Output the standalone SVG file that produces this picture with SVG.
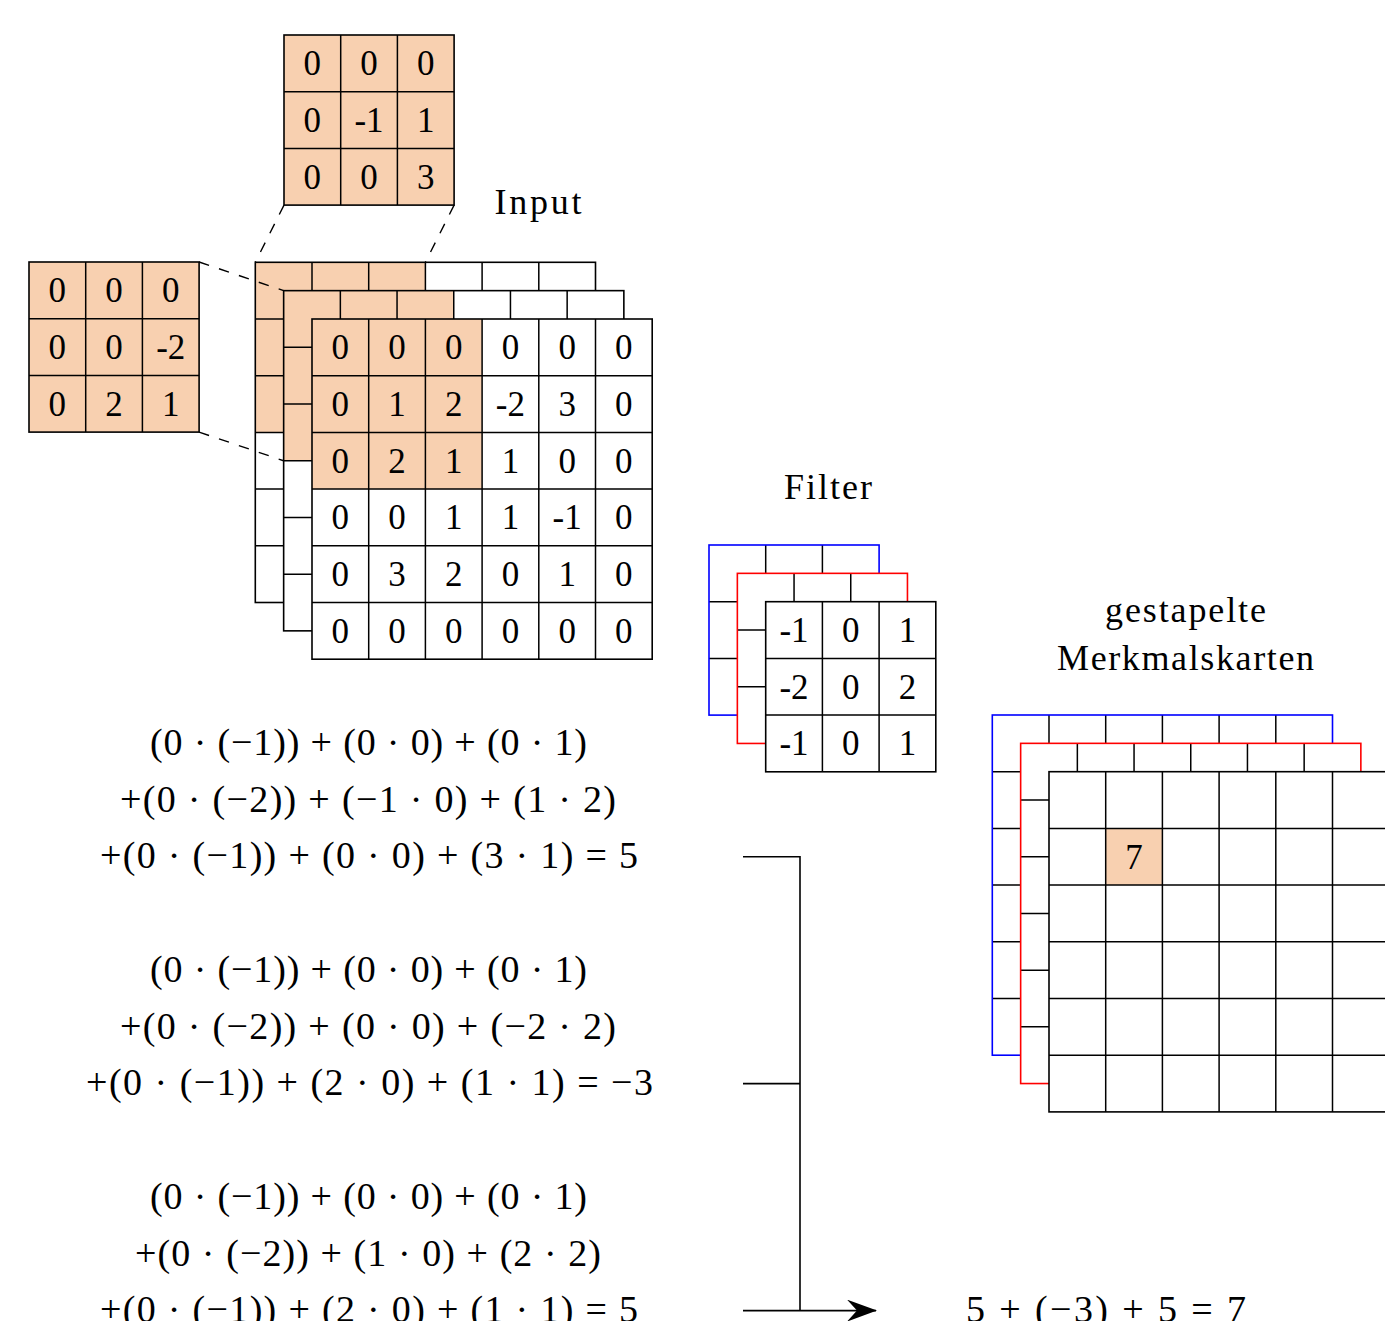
<svg xmlns="http://www.w3.org/2000/svg" xmlns:xlink="http://www.w3.org/1999/xlink" width="1385" height="1321" viewBox="0 0 1385 1321">
<style>
.bg{fill:#ffffff;stroke:none}
.hl{fill:#F8D0B0;stroke:none}
.gl{fill:none;stroke:#000;stroke-width:1.5}
.bd{fill:none;stroke:#000;stroke-width:1.6}
.bdb{fill:none;stroke:#0000FF;stroke-width:1.6}
.bdr{fill:none;stroke:#FF0000;stroke-width:1.6}
.n{font-family:"Liberation Serif","Times New Roman",serif;font-size:35px;text-anchor:middle;fill:#000}
.t{font-family:"Liberation Serif","Times New Roman",serif;font-size:36px;text-anchor:middle;fill:#000}
.e{font-family:"Liberation Serif","Times New Roman",serif;font-size:38px;text-anchor:middle;fill:#000}
.dash{fill:none;stroke:#000;stroke-width:1.4;stroke-dasharray:10.5 10.5}
.con{fill:none;stroke:#000;stroke-width:1.6}
</style>
<defs>
<path id="g6" class="gl" d="M56.7 0V340.2M113.4 0V340.2M170.1 0V340.2M226.8 0V340.2M283.5 0V340.2M0 56.7H340.2M0 113.4H340.2M0 170.1H340.2M0 226.8H340.2M0 283.5H340.2"/>
<path id="g3" class="gl" d="M56.7 0V170.1M113.4 0V170.1M0 56.7H170.1M0 113.4H170.1"/>
<marker id="stealth" viewBox="0 0 30 22" refX="29" refY="11" markerWidth="30" markerHeight="22" markerUnits="userSpaceOnUse" orient="auto">
<path d="M0,0 L30,11 L0,22 L10,11 Z" fill="#000"/>
</marker>
</defs>
<rect width="1385" height="1321" fill="#fff"/>

<!-- Input stack -->
<g id="input-layer-1" transform="translate(255.3,262.3)">
<rect class="bg" width="340.2" height="340.2"/>
<rect class="hl" width="170.1" height="170.1"/>
<use href="#g6"/>
<rect class="bd" width="340.2" height="340.2"/>
</g>
<g id="input-layer-2" transform="translate(283.65,290.65)">
<rect class="bg" width="340.2" height="340.2"/>
<rect class="hl" width="170.1" height="170.1"/>
<use href="#g6"/>
<rect class="bd" width="340.2" height="340.2"/>
</g>
<g id="input-layer-3" transform="translate(312,319)">
<rect class="bg" width="340.2" height="340.2"/>
<rect class="hl" width="170.1" height="170.1"/>
<use href="#g6"/>
<rect class="bd" width="340.2" height="340.2"/>
<g class="n">
<text x="28.35" y="40.35">0</text><text x="85.05" y="40.35">0</text><text x="141.75" y="40.35">0</text><text x="198.45" y="40.35">0</text><text x="255.15" y="40.35">0</text><text x="311.85" y="40.35">0</text>
<text x="28.35" y="97.05">0</text><text x="85.05" y="97.05">1</text><text x="141.75" y="97.05">2</text><text x="198.45" y="97.05">-2</text><text x="255.15" y="97.05">3</text><text x="311.85" y="97.05">0</text>
<text x="28.35" y="153.75">0</text><text x="85.05" y="153.75">2</text><text x="141.75" y="153.75">1</text><text x="198.45" y="153.75">1</text><text x="255.15" y="153.75">0</text><text x="311.85" y="153.75">0</text>
<text x="28.35" y="210.45">0</text><text x="85.05" y="210.45">0</text><text x="141.75" y="210.45">1</text><text x="198.45" y="210.45">1</text><text x="255.15" y="210.45">-1</text><text x="311.85" y="210.45">0</text>
<text x="28.35" y="267.15">0</text><text x="85.05" y="267.15">3</text><text x="141.75" y="267.15">2</text><text x="198.45" y="267.15">0</text><text x="255.15" y="267.15">1</text><text x="311.85" y="267.15">0</text>
<text x="28.35" y="323.85">0</text><text x="85.05" y="323.85">0</text><text x="141.75" y="323.85">0</text><text x="198.45" y="323.85">0</text><text x="255.15" y="323.85">0</text><text x="311.85" y="323.85">0</text>
</g>
</g>

<!-- Extracted patches -->
<g id="patch-top" transform="translate(284,35)">
<rect class="hl" width="170.1" height="170.1"/>
<use href="#g3"/>
<rect class="bd" width="170.1" height="170.1"/>
<g class="n">
<text x="28.35" y="40.35">0</text><text x="85.05" y="40.35">0</text><text x="141.75" y="40.35">0</text>
<text x="28.35" y="97.05">0</text><text x="85.05" y="97.05">-1</text><text x="141.75" y="97.05">1</text>
<text x="28.35" y="153.75">0</text><text x="85.05" y="153.75">0</text><text x="141.75" y="153.75">3</text>
</g>
</g>
<g id="patch-left" transform="translate(29,262)">
<rect class="hl" width="170.1" height="170.1"/>
<use href="#g3"/>
<rect class="bd" width="170.1" height="170.1"/>
<g class="n">
<text x="28.35" y="40.35">0</text><text x="85.05" y="40.35">0</text><text x="141.75" y="40.35">0</text>
<text x="28.35" y="97.05">0</text><text x="85.05" y="97.05">0</text><text x="141.75" y="97.05">-2</text>
<text x="28.35" y="153.75">0</text><text x="85.05" y="153.75">2</text><text x="141.75" y="153.75">1</text>
</g>
</g>

<!-- Filter stack -->
<g id="filter-layer-1" transform="translate(709,545)">
<rect class="bg" width="170.1" height="170.1"/>
<use href="#g3"/>
<rect class="bdb" width="170.1" height="170.1"/>
</g>
<g id="filter-layer-2" transform="translate(737.35,573.35)">
<rect class="bg" width="170.1" height="170.1"/>
<use href="#g3"/>
<rect class="bdr" width="170.1" height="170.1"/>
</g>
<g id="filter-layer-3" transform="translate(765.7,601.7)">
<rect class="bg" width="170.1" height="170.1"/>
<use href="#g3"/>
<rect class="bd" width="170.1" height="170.1"/>
<g class="n">
<text x="28.35" y="40.35">-1</text><text x="85.05" y="40.35">0</text><text x="141.75" y="40.35">1</text>
<text x="28.35" y="97.05">-2</text><text x="85.05" y="97.05">0</text><text x="141.75" y="97.05">2</text>
<text x="28.35" y="153.75">-1</text><text x="85.05" y="153.75">0</text><text x="141.75" y="153.75">1</text>
</g>
</g>

<!-- Output stack -->
<g id="output-layer-1" transform="translate(992.3,715)">
<rect class="bg" width="340.2" height="340.2"/>
<use href="#g6"/>
<rect class="bdb" width="340.2" height="340.2"/>
</g>
<g id="output-layer-2" transform="translate(1020.65,743.35)">
<rect class="bg" width="340.2" height="340.2"/>
<use href="#g6"/>
<rect class="bdr" width="340.2" height="340.2"/>
</g>
<g id="output-layer-3" transform="translate(1049,771.7)">
<rect class="bg" width="340.2" height="340.2"/>
<rect class="hl" x="56.7" y="56.7" width="56.7" height="56.7"/>
<use href="#g6"/>
<rect class="bd" width="340.2" height="340.2"/>
<text class="n" x="85.05" y="97.05">7</text>
</g>

<!-- Labels -->
<g id="labels" class="t">
<text x="538" y="214" textLength="87" lengthAdjust="spacing">Input</text>
<text x="828" y="499" textLength="88" lengthAdjust="spacing">Filter</text>
<text x="1185.5" y="622" textLength="161" lengthAdjust="spacing">gestapelte</text>
<text x="1185.5" y="670" textLength="257" lengthAdjust="spacing">Merkmalskarten</text>
</g>

<!-- Equations -->
<g id="eq-1" class="e">
<text x="368.5" y="755" textLength="437" lengthAdjust="spacing">(0 · (−1)) + (0 · 0) + (0 · 1)</text>
<text x="368" y="811.7" textLength="496" lengthAdjust="spacing">+(0 · (−2)) + (−1 · 0) + (1 · 2)</text>
<text x="369" y="868.4" textLength="538" lengthAdjust="spacing">+(0 · (−1)) + (0 · 0) + (3 · 1) = 5</text>
</g>
<g id="eq-2" class="e">
<text x="368.5" y="982" textLength="437" lengthAdjust="spacing">(0 · (−1)) + (0 · 0) + (0 · 1)</text>
<text x="368" y="1038.7" textLength="496" lengthAdjust="spacing">+(0 · (−2)) + (0 · 0) + (−2 · 2)</text>
<text x="369.5" y="1095.4" textLength="567" lengthAdjust="spacing">+(0 · (−1)) + (2 · 0) + (1 · 1) = −3</text>
</g>
<g id="eq-3" class="e">
<text x="368.5" y="1208.8" textLength="437" lengthAdjust="spacing">(0 · (−1)) + (0 · 0) + (0 · 1)</text>
<text x="368" y="1265.5" textLength="466" lengthAdjust="spacing">+(0 · (−2)) + (1 · 0) + (2 · 2)</text>
<text x="369" y="1321.5" textLength="538" lengthAdjust="spacing">+(0 · (−1)) + (2 · 0) + (1 · 1) = 5</text>
</g>
<g id="result" class="e">
<text x="1106" y="1321.5" textLength="280" lengthAdjust="spacing">5 + (−3) + 5 = 7</text>
</g>

<!-- Connectors -->
<g id="connectors">
<path class="dash" d="M284 205.1L255.3 262.3"/>
<path class="dash" d="M454.1 205.1L425.4 262.3"/>
<path class="dash" d="M199.1 262L283.65 290.65"/>
<path class="dash" d="M199.1 432.1L283.65 460.75"/>
<path class="con" d="M743 856.7H800V1310.6"/>
<path class="con" d="M743 1083.6H800"/>
<path class="con" d="M743 1310.6H876" marker-end="url(#stealth)"/>
</g>
</svg>
